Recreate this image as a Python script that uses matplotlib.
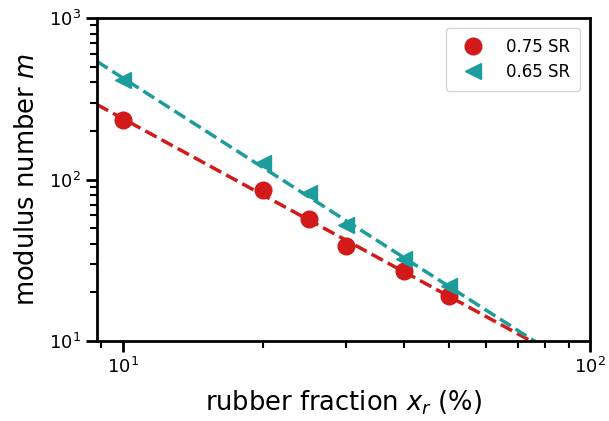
import matplotlib
matplotlib.use("Agg")
import matplotlib.pyplot as plt
import numpy as np

# rubber fraction (%)
xr = [10, 20, 25, 30, 40, 50]
# modulus number m
m_075 = [233, 86, 57, 39, 27, 19]
m_065 = [413, 126, 82, 52, 32, 22]

labels = ["0.75 SR", "0.65 SR"]
colors = ["#d21a1a", "#1c9c9c"]

fig = plt.figure(figsize=(6.09, 4.21), dpi=100)
ax = fig.add_axes([0.159, 0.19, 0.81, 0.767])

xfit = np.logspace(np.log10(8.8), 2, 100)
for y, lab, c, mk in [(m_075, labels[0], colors[0], "o"), (m_065, labels[1], colors[1], "<")]:
    ax.plot(xr, y, mk, color=c, markersize=12, label=lab, zorder=3)
    k, b = np.polyfit(np.log10(xr), np.log10(y), 1)
    ax.plot(xfit, 10 ** (k * np.log10(xfit) + b), "--", color=c, lw=2.5, zorder=2)

ax.set_xscale("log")
ax.set_yscale("log")
ax.set_xlim(8.8, 100)
ax.set_ylim(10, 1000)

for s in ax.spines.values():
    s.set_linewidth(2)
ax.tick_params(which="major", length=8, width=2, labelsize=13)
ax.tick_params(which="minor", length=5, width=1.5)

ax.set_xlabel("rubber fraction $x_r$ (%)", fontsize=18.5, labelpad=8)
ax.set_ylabel("modulus number $m$", fontsize=18.5, labelpad=6)
ax.legend(loc="upper right", fontsize=12, borderpad=0.6, handletextpad=1.0,
          borderaxespad=0.6, labelspacing=0.4)

fig.savefig("out.png")
